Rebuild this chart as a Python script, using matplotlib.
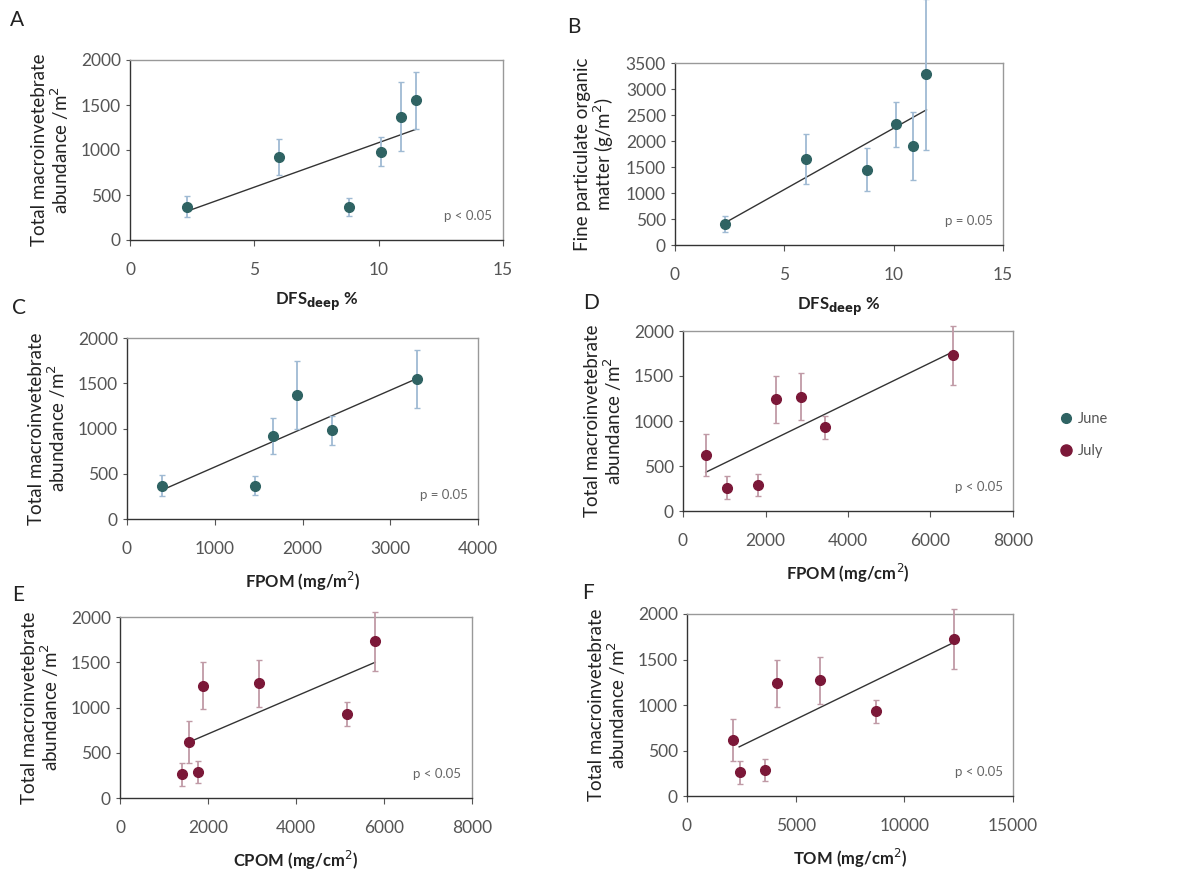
import matplotlib

matplotlib.use("Agg")

import matplotlib.pyplot as plt
from matplotlib.lines import Line2D

plt.rcParams["font.family"] = ["Lato", "DejaVu Sans"]

JUNE = "#2f6363"
JULY = "#7b1838"
JUNE_ERR = "#9fbad3"
JULY_ERR = "#c09aa6"

# June sites
dfs_deep = [2.3, 6.0, 8.8, 10.1, 10.9, 11.5]
june_abund = [370, 920, 370, 980, 1370, 1550]
june_abund_err = [120, 200, 100, 160, 380, 320]
june_fpom = [400, 1650, 1450, 2320, 1900, 3280]
june_fpom_err = [150, 480, 420, 430, 650, 1450]
fpom_june_mg = [400, 1660, 1460, 2340, 1940, 3300]

# July sites
july_fpom = [550, 1060, 1830, 2250, 2850, 3450, 6550]
july_cpom = [1560, 1420, 1780, 1880, 3150, 5150, 5800]
july_tom = [2100, 2450, 3600, 4150, 6100, 8700, 12300]
july_abund = [620, 260, 290, 1240, 1270, 930, 1730]
july_abund_err = [230, 130, 120, 260, 260, 130, 330]

# fitted trend lines (end points)
trend_a = ([2.3, 11.5], [320, 1230])
trend_b = ([2.3, 11.5], [430, 2600])
trend_c = ([400, 3300], [320, 1550])
trend_d = ([550, 6550], [430, 1770])
trend_e = ([1580, 5800], [620, 1500])
trend_f = ([2400, 12300], [540, 1690])

W, H = 1177, 872
fig = plt.figure(figsize=(W / 100, H / 100), dpi=100)


def add_axes(left, right, top, bottom):
    return fig.add_axes([left / W, 1 - bottom / H, (right - left) / W, (bottom - top) / H])


def style(ax, xlim, xticks, ylim, yticks, xlabel, ylabel, ptext, letter, letter_xy):
    ax.set_xlim(*xlim)
    ax.set_ylim(*ylim)
    ax.set_xticks(xticks)
    ax.set_yticks(yticks)
    ax.tick_params(colors="#555555", labelsize=12.5, length=4, width=0.8, direction="out")
    ax.tick_params(axis="x", pad=12)
    ax.tick_params(axis="y", length=3)
    for sp in ax.spines.values():
        sp.set_color("#999999")
        sp.set_linewidth(1.0)
    ax.spines["bottom"].set_color("#333333")
    ax.spines["left"].set_color("#333333")
    ax.set_xlabel(xlabel, fontsize=12, fontweight="bold", color="#222222", labelpad=9)
    ax.set_ylabel(ylabel, fontsize=13.5, color="#222222", labelpad=7, linespacing=1.05)
    ax.text(0.97, 0.1, ptext, transform=ax.transAxes, ha="right", va="bottom",
            fontsize=9.5, color="#666666")
    fig.text(letter_xy[0] / W, 1 - letter_xy[1] / H, letter, fontsize=15, color="#222222",
             ha="left", va="center")


abund_label = "Total macroinvetebrate\nabundance /m$^2$"
dfs_label = r"DFS$_{\mathbf{deep}}$ %"

# A
ax = add_axes(130, 503, 60, 240)
ax.errorbar(dfs_deep, june_abund, yerr=june_abund_err, fmt="o", color=JUNE, ecolor=JUNE_ERR,
            elinewidth=1.3, capsize=2, ms=7, clip_on=False, zorder=3)
ax.plot(*trend_a, color="#333333", lw=1)
style(ax, (0, 15), [0, 5, 10, 15], (0, 2000), [0, 500, 1000, 1500, 2000],
      dfs_label, abund_label, "p < 0.05", "A", (10, 20))

# B
ax = add_axes(675, 1003, 63, 245)
ax.errorbar(dfs_deep, june_fpom, yerr=june_fpom_err, fmt="o", color=JUNE, ecolor=JUNE_ERR,
            elinewidth=1.3, capsize=2, ms=7, clip_on=False, zorder=3)
ax.plot(*trend_b, color="#333333", lw=1)
style(ax, (0, 15), [0, 5, 10, 15], (0, 3500), list(range(0, 3501, 500)),
      dfs_label, "Fine particulate organic\nmatter (g/m$^2$)", "p = 0.05", "B", (567, 27))

# C
ax = add_axes(127, 478, 338, 519)
ax.errorbar(fpom_june_mg, june_abund, yerr=june_abund_err, fmt="o", color=JUNE, ecolor=JUNE_ERR,
            elinewidth=1.3, capsize=2, ms=7, clip_on=False, zorder=3)
ax.plot(*trend_c, color="#333333", lw=1)
style(ax, (0, 4000), [0, 1000, 2000, 3000, 4000], (0, 2000), [0, 500, 1000, 1500, 2000],
      "FPOM (mg/m$^2$)", abund_label, "p = 0.05", "C", (12, 308))

# D
ax = add_axes(683, 1013, 331, 511)
ax.errorbar(july_fpom, july_abund, yerr=july_abund_err, fmt="o", color=JULY, ecolor=JULY_ERR,
            elinewidth=1.3, capsize=2, ms=7, clip_on=False, zorder=3)
ax.plot(*trend_d, color="#333333", lw=1)
style(ax, (0, 8000), [0, 2000, 4000, 6000, 8000], (0, 2000), [0, 500, 1000, 1500, 2000],
      "FPOM (mg/cm$^2$)", abund_label, "p < 0.05", "D", (583, 303))

# E
ax = add_axes(120, 472, 617, 798)
ax.errorbar(july_cpom, july_abund, yerr=july_abund_err, fmt="o", color=JULY, ecolor=JULY_ERR,
            elinewidth=1.3, capsize=2, ms=7, clip_on=False, zorder=3)
ax.plot(*trend_e, color="#333333", lw=1)
style(ax, (0, 8000), [0, 2000, 4000, 6000, 8000], (0, 2000), [0, 500, 1000, 1500, 2000],
      "CPOM (mg/cm$^2$)", abund_label, "p < 0.05", "E", (12, 595))

# F
ax = add_axes(687, 1013, 614, 796)
ax.errorbar(july_tom, july_abund, yerr=july_abund_err, fmt="o", color=JULY, ecolor=JULY_ERR,
            elinewidth=1.3, capsize=2, ms=7, clip_on=False, zorder=3)
ax.plot(*trend_f, color="#333333", lw=1)
style(ax, (0, 15000), [0, 5000, 10000, 15000], (0, 2000), [0, 500, 1000, 1500, 2000],
      "TOM (mg/cm$^2$)", abund_label, "p < 0.05", "F", (582, 593))

handles = [
    Line2D([], [], marker="o", ls="", color=JUNE, ms=7, label="June"),
    Line2D([], [], marker="o", ls="", color=JULY, ms=8, label="July"),
]
fig.legend(handles=handles, loc="center left", bbox_to_anchor=(1046 / W, 1 - 435 / H),
           frameon=False, fontsize=10.5, labelcolor="#555555", handletextpad=0.3,
           labelspacing=1.2, handlelength=1)

fig.savefig("out.png", dpi=100)
